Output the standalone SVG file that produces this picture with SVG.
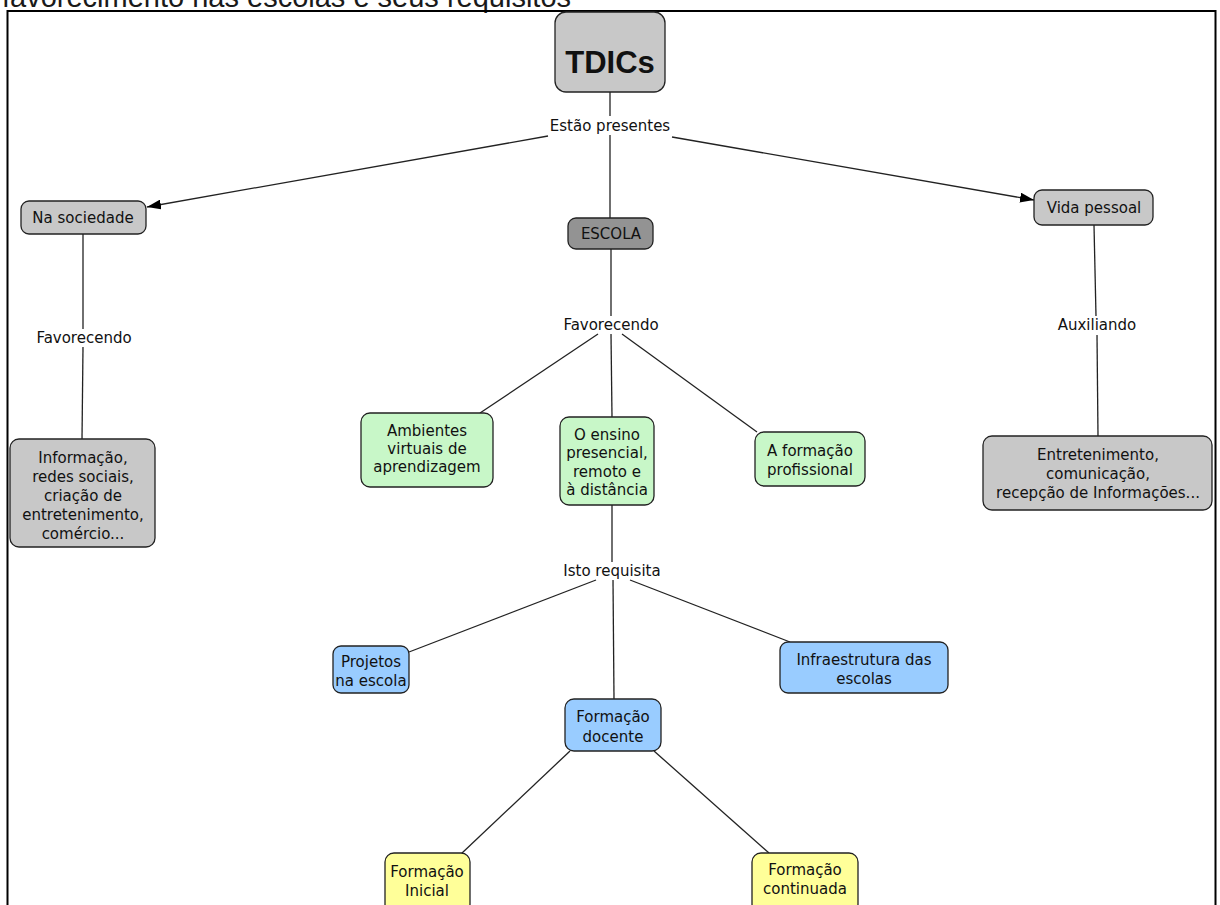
<svg xmlns="http://www.w3.org/2000/svg" width="1220" height="905" viewBox="0 0 1220 905">
<style>
.n rect{stroke:#222;stroke-width:1.3}
.g{fill:#c8c8c8}
.dg{fill:#939393}
.gr{fill:#c8f7c8}
.bl{fill:#99ccff}
.ye{fill:#ffff99}
text{font-family:"DejaVu Sans",Verdana,sans-serif;font-size:15px;fill:#111;text-anchor:middle}
.lbl{font-size:15px}
#connectors line{stroke:#222;stroke-width:1.3}
</style>
<defs>
<marker id="arr" viewBox="0 0 14 10" refX="14" refY="5" markerWidth="14" markerHeight="10" markerUnits="userSpaceOnUse" orient="auto">
<path d="M0,0 L14,5 L0,10 z" fill="#000"/>
</marker>
</defs>
<rect width="1220" height="905" fill="#fff"/>
<text x="2" y="7" style="font-family:'Liberation Sans',Arial,sans-serif;font-size:29px;text-anchor:start;fill:#1a1a1a">favorecimento nas escolas e seus requisitos</text>
<rect x="7.5" y="11" width="1208" height="900" fill="none" stroke="#000" stroke-width="2"/>

<g id="connectors">
<line x1="610" y1="92" x2="610" y2="116"/>
<line x1="610" y1="135" x2="610" y2="218"/>
<line x1="548" y1="136" x2="147" y2="207" marker-end="url(#arr)"/>
<line x1="672" y1="137" x2="1034" y2="200" marker-end="url(#arr)"/>
<line x1="83" y1="234" x2="83" y2="329"/>
<line x1="83" y1="347" x2="82" y2="439"/>
<line x1="611" y1="249" x2="611" y2="316"/>
<line x1="598" y1="334" x2="480" y2="413"/>
<line x1="611" y1="334" x2="612" y2="417"/>
<line x1="622" y1="334" x2="757" y2="432"/>
<line x1="1094" y1="225" x2="1096" y2="316"/>
<line x1="1097" y1="335" x2="1098" y2="436"/>
<line x1="612" y1="505" x2="612" y2="562"/>
<line x1="596" y1="580" x2="409" y2="652"/>
<line x1="613" y1="580" x2="614" y2="699"/>
<line x1="630" y1="580" x2="790" y2="642"/>
<line x1="570" y1="751" x2="461" y2="854"/>
<line x1="654" y1="751" x2="769" y2="853"/>
</g>

<g id="lbl-estao"><text class="lbl" x="610" y="131">Estão presentes</text></g>
<g id="lbl-fav1"><text class="lbl" x="84" y="343">Favorecendo</text></g>
<g id="lbl-fav2"><text class="lbl" x="611" y="330">Favorecendo</text></g>
<g id="lbl-aux"><text class="lbl" x="1097" y="330">Auxiliando</text></g>
<g id="lbl-isto"><text class="lbl" x="612" y="576">Isto requisita</text></g>

<g id="tdics" class="n"><rect class="g" x="555" y="12" width="110" height="80" rx="11"/><text x="610" y="73" style="font-family:'Liberation Sans',Arial,sans-serif;font-weight:bold;font-size:31px">TDICs</text></g>
<g id="sociedade" class="n"><rect class="g" x="21" y="201" width="125" height="33" rx="8"/><text x="83" y="223">Na sociedade</text></g>
<g id="escola" class="n"><rect class="dg" x="568" y="218" width="85" height="31" rx="8"/><text x="611" y="239">ESCOLA</text></g>
<g id="vida" class="n"><rect class="g" x="1034" y="190" width="119" height="35" rx="8"/><text x="1094" y="213">Vida pessoal</text></g>
<g id="info" class="n"><rect class="g" x="10" y="439" width="145" height="108" rx="9"/>
<text x="83" y="463">Informação,</text><text x="83" y="482">redes sociais,</text><text x="83" y="501">criação de</text><text x="83" y="520">entretenimento,</text><text x="83" y="539">comércio...</text></g>
<g id="entret" class="n"><rect class="g" x="983" y="436" width="229" height="74" rx="9"/>
<text x="1098" y="460">Entretenimento,</text><text x="1098" y="479">comunicação,</text><text x="1098" y="498">recepção de Informações...</text></g>
<g id="ambientes" class="n"><rect class="gr" x="361" y="413" width="132" height="74" rx="9"/>
<text x="427" y="436">Ambientes</text><text x="427" y="454">virtuais de</text><text x="427" y="472">aprendizagem</text></g>
<g id="ensino" class="n"><rect class="gr" x="560" y="417" width="94" height="88" rx="9"/>
<text x="607" y="440">O ensino</text><text x="607" y="458">presencial,</text><text x="607" y="477">remoto e</text><text x="607" y="495">à distância</text></g>
<g id="formprof" class="n"><rect class="gr" x="755" y="432" width="110" height="54" rx="9"/>
<text x="810" y="456">A formação</text><text x="810" y="475">profissional</text></g>
<g id="projetos" class="n"><rect class="bl" x="333" y="646" width="76" height="47" rx="8"/>
<text x="371" y="667">Projetos</text><text x="371" y="686">na escola</text></g>
<g id="infra" class="n"><rect class="bl" x="780" y="642" width="168" height="51" rx="8"/>
<text x="864" y="665">Infraestrutura das</text><text x="864" y="684">escolas</text></g>
<g id="docente" class="n"><rect class="bl" x="565" y="699" width="96" height="52" rx="9"/>
<text x="613" y="722">Formação</text><text x="613" y="742">docente</text></g>
<g id="inicial" class="n"><rect class="ye" x="385" y="853" width="85" height="60" rx="9"/>
<text x="427" y="877">Formação</text><text x="427" y="896">Inicial</text></g>
<g id="continuada" class="n"><rect class="ye" x="752" y="853" width="106" height="60" rx="9"/>
<text x="805" y="875">Formação</text><text x="805" y="894">continuada</text></g>
</svg>
